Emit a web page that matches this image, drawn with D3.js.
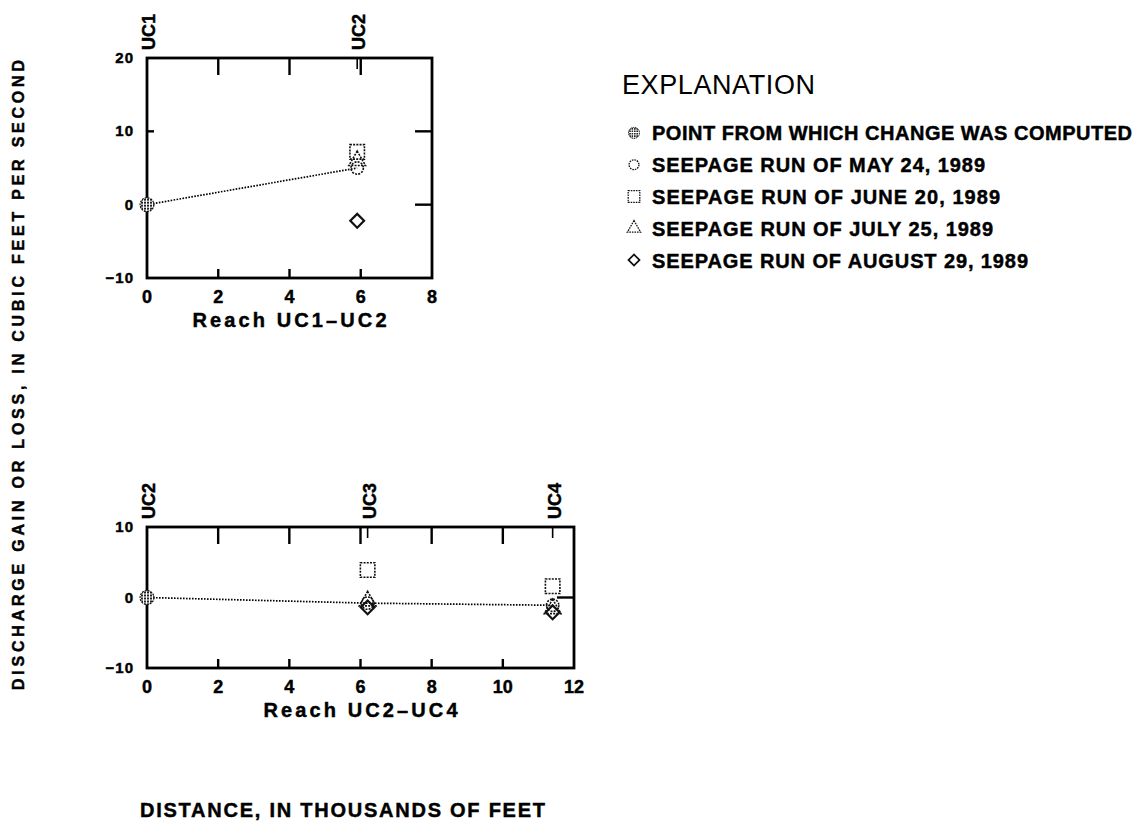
<!DOCTYPE html>
<html>
<head>
<meta charset="utf-8">
<script src="https://cdn.jsdelivr.net/npm/d3@7"></script>
<style>
  body { margin: 0; background: #fff; }
  svg { display: block; }
  text { font-family: "Liberation Sans", Arial, sans-serif; font-weight: bold; fill: #000; stroke: #000; stroke-width: 0.45px; }
  text.plain { stroke: none; font-weight: normal; }
</style>
</head>
<body>
<svg id="chart" width="1147" height="827"></svg>
<script>
(function () {
    'use strict';

    // reach UC1-UC2
    const topStations = ["UC1", "UC2"];
    const topDistance = [0, 5.9];
    const topMay = [0, 5.0];
    const topJune = [0, 7.2];
    const topJuly = [0, 6.0];
    const topAug = [0, -2.2];
    const topXTicks = [0, 2, 4, 6, 8];
    const topYTicks = [-10, 0, 10, 20];

    // reach UC2-UC4
    const botStations = ["UC2", "UC3", "UC4"];
    const botDistance = [0, 6.2, 11.4];
    const botMay = [0, -0.8, -1.1];
    const botJune = [0, 3.9, 1.6];
    const botJuly = [0, -0.5, -1.6];
    const botAug = [0, -1.4, -2.1];
    const botXTicks = [0, 2, 4, 6, 8, 10, 12];
    const botYTicks = [-10, 0, 10];

    const legendLabels = [
        "POINT FROM WHICH CHANGE WAS COMPUTED",
        "SEEPAGE RUN OF MAY 24, 1989",
        "SEEPAGE RUN OF JUNE 20, 1989",
        "SEEPAGE RUN OF JULY 25, 1989",
        "SEEPAGE RUN OF AUGUST 29, 1989"
    ];
    const legendWidths = [480, 333, 348, 341, 376];

    const svg = d3.select("#chart");
    svg.append("rect").attr("width", 1147).attr("height", 827).attr("fill", "#fff");

    // crosshatch fill for the reference point
    const pat = svg.append("defs").append("pattern")
        .attr("id", "hatch")
        .attr("patternUnits", "userSpaceOnUse")
        .attr("width", 3).attr("height", 3);
    pat.append("rect").attr("width", 3).attr("height", 3).attr("fill", "#fff");
    pat.append("rect").attr("width", 2).attr("height", 2).attr("fill", "#222");

    const shapes = {
        ref: d3.symbol().type(d3.symbolCircle).size(150),
        circle: d3.symbol().type(d3.symbolCircle).size(120),
        square: d3.symbol().type(d3.symbolSquare).size(210),
        triangle: d3.symbol().type(d3.symbolTriangle).size(120),
        diamond: d3.symbol().type(d3.symbolSquare).size(95)
    };

    function marker(g, kind, x, y, k) {
        k = k || 1;
        const p = g.append("path")
            .attr("d", shapes[kind]())
            .attr("transform", `translate(${x},${y}) scale(${k})` + (kind === "diamond" ? " rotate(45)" : ""));
        if (kind === "ref") {
            p.attr("fill", "url(#hatch)").attr("stroke", "#111").attr("stroke-width", 1.2).attr("stroke-dasharray", "2,1");
        } else {
            p.attr("fill", "none").attr("stroke", "#111").attr("stroke-width", kind === "diamond" ? 2.2 : 1.6)
                .attr("stroke-dasharray", kind === "diamond" ? null : "2,1.2");
        }
        return p;
    }

    function panel(opts) {
        const x = d3.scaleLinear().domain(opts.xDomain).range(opts.xRange);
        const y = d3.scaleLinear().domain(opts.yDomain).range(opts.yRange);
        const g = svg.append("g");
        const [x0, x1] = opts.xRange;
        const [yb, yt] = opts.yRange;

        // frame
        g.append("rect")
            .attr("x", x0).attr("y", yt)
            .attr("width", x1 - x0).attr("height", yb - yt)
            .attr("fill", "none").attr("stroke", "#000").attr("stroke-width", 2.8);

        const inner = opts.xTicks.filter(d => d !== opts.xDomain[0] && d !== opts.xDomain[1]);
        // top ticks (long) and bottom ticks (short)
        g.selectAll(".tt").data(inner).join("line")
            .attr("x1", d => x(d)).attr("x2", d => x(d))
            .attr("y1", yt).attr("y2", yt + 17)
            .attr("stroke", "#000").attr("stroke-width", 2.4);
        g.selectAll(".bt").data(inner).join("line")
            .attr("x1", d => x(d)).attr("x2", d => x(d))
            .attr("y1", yb).attr("y2", yb - 9)
            .attr("stroke", "#000").attr("stroke-width", 2.4);
        // station ticks
        g.selectAll(".st").data(opts.distance.slice(1)).join("line")
            .attr("x1", d => x(d)).attr("x2", d => x(d))
            .attr("y1", yt).attr("y2", yt + 11)
            .attr("stroke", "#000").attr("stroke-width", 1.6);

        const yInner = opts.yTicks.filter(d => d !== opts.yDomain[0] && d !== opts.yDomain[1]);
        g.selectAll(".rt").data(yInner).join("line")
            .attr("x1", x1).attr("x2", x1 - 17)
            .attr("y1", d => y(d)).attr("y2", d => y(d))
            .attr("stroke", "#000").attr("stroke-width", 2.4);
        g.selectAll(".lt").data(yInner).join("line")
            .attr("x1", x0).attr("x2", x0 + 7)
            .attr("y1", d => y(d)).attr("y2", d => y(d))
            .attr("stroke", "#000").attr("stroke-width", 2.4);

        // tick labels
        g.selectAll(".xl").data(opts.xTicks).join("text")
            .attr("x", d => x(d)).attr("y", yb + 25)
            .attr("text-anchor", "middle")
            .style("font-size", "18px")
            .text(d => d);
        g.selectAll(".yl").data(opts.yTicks).join("text")
            .attr("x", x0 - 13).attr("y", d => y(d) + 5)
            .attr("text-anchor", "end")
            .style("font-size", "15px")
            .style("letter-spacing", "1px")
            .text(d => d < 0 ? "\u2212" + Math.abs(d) : d);

        // station names along top
        g.selectAll(".sn").data(opts.stations).join("text")
            .attr("transform", (d, i) => `translate(${x(opts.distance[i]) + 8},${yt - 8}) rotate(-90)`)
            .style("font-size", "18px")
            .text(d => d);

        // reach label
        g.append("text")
            .attr("x", (x0 + x1) / 2).attr("y", yb + 49)
            .attr("text-anchor", "middle")
            .attr("textLength", 194)
            .style("font-size", "20px")
            .text(opts.label);

        // dotted line through May run
        const line = d3.line().x((d, i) => x(opts.distance[i])).y(d => y(d));
        g.append("path")
            .attr("d", line(opts.may))
            .attr("fill", "none").attr("stroke", "#000")
            .attr("stroke-width", 1.7).attr("stroke-dasharray", "1.6,1.4");

        // markers at stations after the first
        opts.distance.forEach((dx, i) => {
            if (i === 0) return;
            marker(g, "square", x(dx), y(opts.june[i]));
            marker(g, "circle", x(dx), y(opts.may[i]));
            marker(g, "triangle", x(dx), y(opts.july[i]));
            marker(g, "diamond", x(dx), y(opts.aug[i]));
        });
        marker(g, "ref", x(opts.distance[0]), y(opts.may[0]));
    }

    panel({
        xDomain: [0, 8], xRange: [147, 432],
        yDomain: [-10, 20], yRange: [278, 58],
        xTicks: topXTicks, yTicks: topYTicks,
        stations: topStations, distance: topDistance,
        may: topMay, june: topJune, july: topJuly, aug: topAug,
        label: "Reach UC1\u2013UC2"
    });

    panel({
        xDomain: [0, 12], xRange: [147, 574],
        yDomain: [-10, 10], yRange: [668, 527],
        xTicks: botXTicks, yTicks: botYTicks,
        stations: botStations, distance: botDistance,
        may: botMay, june: botJune, july: botJuly, aug: botAug,
        label: "Reach UC2\u2013UC4"
    });

    // axis titles
    svg.append("text")
        .attr("transform", "translate(24,375) rotate(-90)")
        .attr("text-anchor", "middle")
        .attr("textLength", 630)
        .style("font-size", "16px")
        .text("DISCHARGE GAIN OR LOSS, IN CUBIC FEET PER SECOND");

    svg.append("text")
        .attr("x", 140).attr("y", 817)
        .attr("textLength", 405)
        .style("font-size", "20px")
        .text("DISTANCE, IN THOUSANDS OF FEET");

    // legend
    const leg = svg.append("g");
    leg.append("text")
        .attr("class", "plain")
        .attr("x", 622).attr("y", 94)
        .attr("textLength", 193)
        .style("font-size", "27px")
        .text("EXPLANATION");

    const kinds = ["ref", "circle", "square", "triangle", "diamond"];
    const legScale = d3.scaleBand().domain(legendLabels).range([117, 276]);
    legendLabels.forEach((lbl, i) => {
        const cy = legScale(lbl) + legScale.bandwidth() / 2;
        marker(leg, kinds[i], 634, cy, 0.8);
        leg.append("text")
            .attr("x", 652).attr("y", cy + 7.5)
            .attr("textLength", legendWidths[i])
            .style("font-size", "20px")
            .text(lbl);
    });
}());
</script>
</body>
</html>
